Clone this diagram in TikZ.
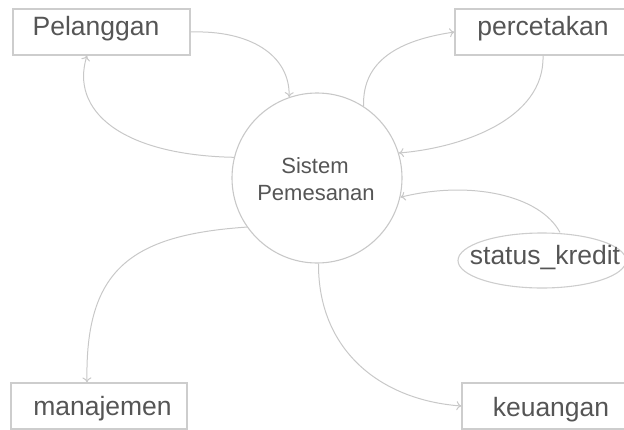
\documentclass[tikz,border=0pt]{standalone}
\usepackage{fontspec}
\setmainfont{Liberation Sans}
\usetikzlibrary{shapes.geometric,arrows.meta}
\definecolor{edge}{HTML}{C8C8C8}
\definecolor{boxline}{HTML}{CDCDCD}
\definecolor{txt}{HTML}{555555}
\begin{document}
\begin{tikzpicture}[x=1pt,y=-1pt,
  box/.style={draw=boxline,line width=1.1pt,rectangle,inner sep=0pt,minimum height=46pt},
  lbl/.style={anchor=base,inner sep=0pt,text=txt,font=\fontsize{26.5}{30}\selectfont},
  slbl/.style={anchor=base,inner sep=0pt,text=txt,font=\fontsize{22}{26}\selectfont},
  conn/.style={draw=edge,line width=1pt,-{To[length=5pt,width=9pt]}}]
\useasboundingbox (0,0) rectangle (624,429);
% boxes
\node[box,minimum width=177pt] (pel) at (101.5,32) {};
\node[box,minimum width=173pt] (per) at (541.5,32) {};
\node[box,minimum width=176pt] (man) at (99,406) {};
\node[box,minimum width=166pt] (keu) at (545,406) {};
\node[draw=boxline,line width=1.1pt,ellipse,inner sep=0pt,minimum width=168pt,minimum height=55pt] (sta) at (542,260.5) {};
\node[draw=edge,line width=1.1pt,circle,inner sep=0pt,minimum size=170pt] (sis) at (317,178) {};
% labels
\node[lbl] (tpel) at (96,35) {Pelanggan};
\node[lbl] (tper) at (543,35) {percetakan};
\node[lbl] (tman) at (102.5,415) {manajemen};
\node[lbl] (tkeu) at (551,416) {keuangan};
\node[lbl] (tsta) at (545,264) {status\_kredit};
\node[slbl] (tsis1) at (315,173) {Sistem};
\node[slbl] (tsis2) at (316,200) {Pemesanan};
% connectors
\draw[conn] (pel.east) .. controls (250,30) and (290,55) .. (sis.109);
\draw[conn] (sis.166) .. controls (120,155) and (70,110) .. (pel.south -| 87,0);
\draw[conn] (sis.57) .. controls (362,60) and (400,40) .. (per.west);
\draw[conn] (per.south -| 543,0) .. controls (545,120) and (460,148) .. (sis.17);
\draw[conn] (sta.north -| 560,0) .. controls (540,195) and (470,180) .. (sis.-13);
\draw[conn] (sis.215) .. controls (130,235) and (85,270) .. (man.north -| 87,0);
\draw[conn] (sis.-89) .. controls (318,350) and (380,400) .. (keu.west);
\end{tikzpicture}
\end{document}
